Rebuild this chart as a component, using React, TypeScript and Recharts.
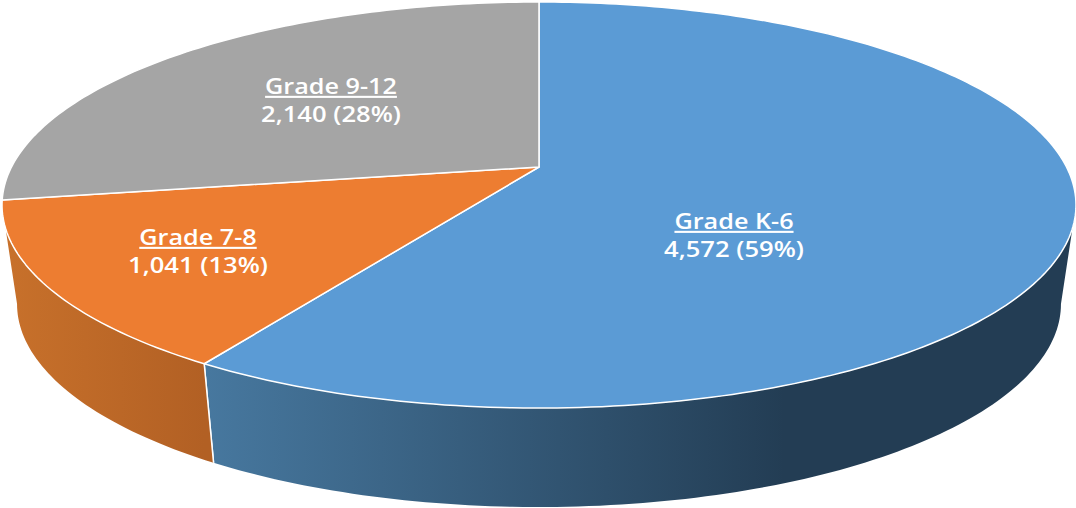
import { PieChart, Pie } from "recharts";

const grades = ["Grade K-6", "Grade 7-8", "Grade 9-12"];
const students = [4572, 1041, 2140];
const topColors = ["#5B9BD5", "#ED7D31", "#A5A5A5"];
const wallFrom = ["#47789F", "#C8712B", "#7C7C7C"];
const wallTo = ["#233D54", "#B26024", "#7C7C7C"];

const data = grades.map((name, i) => ({ name, value: students[i], fill: topColors[i] }));

// label placement relative to the pie apex: [centre dx, first baseline dy]
const labelOffsets = [
  [195, 62],
  [-341, 78],
  [-208, -73],
];

// the tilted disc is a projected circle, so the apex sits above the ellipse centre
const TILT = 0.3714;
const PERSPECTIVE = -0.1872;
const DEPTH = 99;
const FLOOR_SCALE = 0.972;
// angle range (clockwise from 12 o'clock) where the side wall faces the viewer
const FRONT_FROM = 100.8;
const FRONT_TO = 259.2;
// the dark end of the wall shading is reached this far from its left edge
const SHADE_SPAN = 580;

const project = (cx: number, cy: number, r: number, theta: number) => {
  const rad = (theta * Math.PI) / 180;
  const u = Math.sin(rad);
  const v = -Math.cos(rad);
  const w = 1 + PERSPECTIVE * v;
  return { x: cx + (r * u) / w, y: cy + (r * TILT * v) / w };
};

const floor = (p: { x: number; y: number }, cx: number) => ({
  x: cx + FLOOR_SCALE * (p.x - cx),
  y: p.y + DEPTH,
});

const arc = (cx: number, cy: number, r: number, from: number, to: number) => {
  const pts = [];
  const steps = Math.max(2, Math.ceil(to - from));
  for (let i = 0; i <= steps; i++) {
    pts.push(project(cx, cy, r, from + ((to - from) * i) / steps));
  }
  return pts;
};

const toPath = (pts: { x: number; y: number }[]) =>
  pts.map((p, i) => `${i ? "L" : "M"}${p.x.toFixed(2)} ${p.y.toFixed(2)}`).join(" ");

function Slice3D(props: any) {
  const { cx, cy, outerRadius, startAngle, endAngle, fill } = props;
  const idx = topColors.indexOf(fill);
  const from = 90 - startAngle;
  const to = 90 - endAngle;
  const rim = arc(cx, cy, outerRadius, from, to);
  const wallStart = Math.max(from, FRONT_FROM);
  const wallEnd = Math.min(to, FRONT_TO);
  const gradId = `wall-${idx}`;
  let wall = null;
  if (wallEnd > wallStart) {
    const upper = arc(cx, cy, outerRadius, wallStart, wallEnd);
    const lower = upper.map((p) => floor(p, cx)).reverse();
    const first = upper[0];
    const last = upper[upper.length - 1];
    wall = (
      <g>
        <defs>
          <linearGradient
            id={gradId}
            gradientUnits="userSpaceOnUse"
            x1={last.x}
            x2={Math.min(first.x, last.x + SHADE_SPAN)}
            y1={0}
            y2={0}
          >
            <stop offset="0%" stopColor={wallFrom[idx]} />
            <stop offset="100%" stopColor={wallTo[idx]} />
          </linearGradient>
        </defs>
        <path d={`${toPath(upper)} ${toPath(lower).replace("M", "L")} Z`} fill={`url(#${gradId})`} />
        {from >= FRONT_FROM && (
          <line x1={first.x} y1={first.y} x2={floor(first, cx).x} y2={floor(first, cx).y} stroke="#fff" strokeWidth={1.5} />
        )}
        {to <= FRONT_TO && (
          <line x1={last.x} y1={last.y} x2={floor(last, cx).x} y2={floor(last, cx).y} stroke="#fff" strokeWidth={1.5} />
        )}
      </g>
    );
  }
  return (
    <g>
      {wall}
      <path
        d={`M${cx} ${cy} ${toPath(rim).replace("M", "L")} Z`}
        fill={fill}
        stroke="#fff"
        strokeWidth={1.5}
        strokeLinejoin="round"
      />
    </g>
  );
}

function SliceLabel(props: any) {
  const { cx, cy, index, name, value, percent } = props;
  const [dx, dy] = labelOffsets[index];
  const x = cx + dx;
  const y = cy + dy;
  const common = {
    textAnchor: "middle" as const,
    fill: "#fff",
    fontFamily: "'Open Sans', sans-serif",
    fontWeight: 600,
    fontSize: 21,
  };
  return (
    <g>
      <text {...common} transform={`translate(${x} ${y}) scale(1.2 1)`} textDecoration="underline">
        {name}
      </text>
      <text {...common} transform={`translate(${x} ${y + 28}) scale(1.22 1)`}>
        {`${value.toLocaleString("en-US")} (${Math.round(percent * 100)}%)`}
      </text>
    </g>
  );
}

export default function App() {
  return (
    <div style={{ position: "absolute", left: 0, top: 0, width: 1076, height: 508, background: "#fff" }}>
      <PieChart width={1076} height={508} margin={{ top: 0, right: 0, bottom: 0, left: 0 }}>
        <Pie
          data={data}
          dataKey="value"
          nameKey="name"
          cx={539}
          cy={167}
          innerRadius={0}
          outerRadius={527.5}
          startAngle={90}
          endAngle={-270}
          stroke="#fff"
          shape={Slice3D}
          label={SliceLabel}
          labelLine={false}
          isAnimationActive={false}
        />
      </PieChart>
    </div>
  );
}
